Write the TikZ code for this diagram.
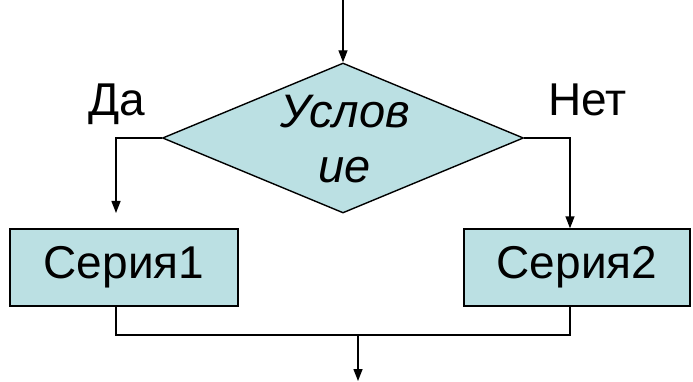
\documentclass[tikz,border=0pt]{standalone}
\usepackage{fontspec}
\setmainfont{Liberation Sans}
\usetikzlibrary{shapes.geometric,arrows.meta}
\definecolor{boxfill}{RGB}{187,224,227}
\begin{document}
\begin{tikzpicture}[x=1pt,y=-1pt,
  line/.style={line width=1.4pt,black},
  arr/.style={line,-{Triangle[length=12pt,width=9pt]}},
  cond/.style={diamond,draw,line width=1.4pt,fill=boxfill,minimum width=361pt,minimum height=150pt,inner sep=0pt},
  condtext/.style={inner sep=0pt,align=center,font=\fontsize{47}{55}\selectfont\itshape},
  series/.style={rectangle,draw,line width=1.4pt,fill=boxfill,minimum height=77pt,inner sep=0pt,font=\fontsize{46}{50}\selectfont},
  lbl/.style={inner sep=0pt,font=\fontsize{46}{50}\selectfont}]
\useasboundingbox (0,0) rectangle (693,382);
\node[cond] (d) at (343,138) {};
\node[condtext] (dt) at (345,139) {Услов\\ие};
\node[series,minimum width=228pt] (b1) at (124,267.5) {Серия1};
\node[series,minimum width=226pt] (b2) at (577,267.5) {Серия2};
\node[lbl,anchor=base west] (da) at (88,116) {Да};
\node[lbl,anchor=base west] (net) at (548,116) {Нет};
\coordinate (top) at (343,0);
\coordinate (lend) at (116,213);
\coordinate (join) at (358,335);
\coordinate (out) at (358,381);
\draw[arr] (top) -- (d.north);
\draw[arr] (d.west) -| (lend);
\draw[arr] (d.east) -| ([xshift=-7pt]b2.north);
\draw[line] ([xshift=-8pt]b1.south) |- (join) -| ([xshift=-7pt]b2.south);
\draw[arr] (join) -- (out);
\end{tikzpicture}
\end{document}
